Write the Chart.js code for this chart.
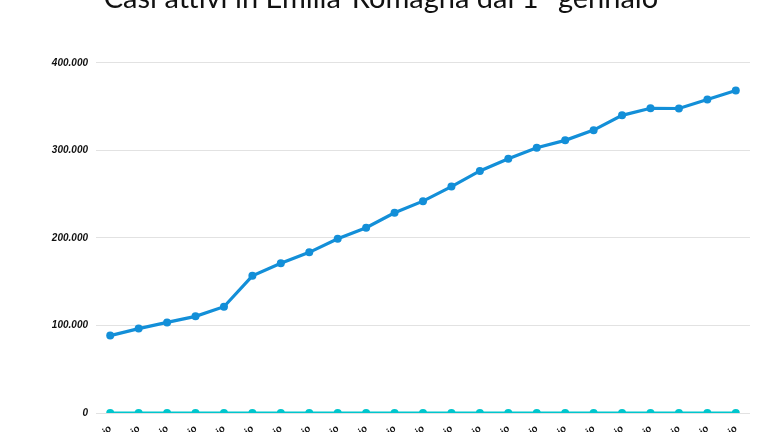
<!DOCTYPE html>
<html>
<head>
<meta charset="utf-8">
<script src="https://cdn.jsdelivr.net/npm/chart.js@4"></script>
<style>
  html, body { margin: 0; padding: 0; background: #fff; overflow: hidden; width: 768px; height: 432px; }
  #wrap { position: absolute; left: 0; top: -30px; width: 768px; height: 503px; }
</style>
</head>
<body>
<div id="wrap"><canvas id="myChart"></canvas></div>
<script>
// dati: casi attivi in Emilia-Romagna, gennaio
const giorni = ['1 gennaio', '2 gennaio', '3 gennaio', '4 gennaio', '5 gennaio', '6 gennaio',
  '7 gennaio', '8 gennaio', '9 gennaio', '10 gennaio', '11 gennaio', '12 gennaio',
  '13 gennaio', '14 gennaio', '15 gennaio', '16 gennaio', '17 gennaio', '18 gennaio',
  '19 gennaio', '20 gennaio', '21 gennaio', '22 gennaio', '23 gennaio'];
const casiAttivi = [88400, 96400, 103500, 110400, 121400, 156700, 171000, 183500, 199100,
  211600, 228700, 242000, 258600, 276500, 290400, 303000, 311400, 323100, 340000,
  348100, 347800, 358000, 368300];
const altraSerie = [0, 0, 0, 0, 0, 0, 0, 0, 0, 0, 0, 0, 0, 0, 0, 0, 0, 0, 0, 0, 0, 0, 0];
const yTicks = [0, 100000, 200000, 300000, 400000];

const tickFont = { family: '"Liberation Sans", Arial, sans-serif', size: 10, weight: 'bold', style: 'italic' };

const ctx = document.getElementById('myChart');

new Chart(ctx, {
  type: 'line',
  data: {
    labels: giorni,
    datasets: [{
      label: 'Casi attivi',
      data: casiAttivi,
      borderColor: '#138fd8',
      backgroundColor: '#138fd8',
      borderWidth: 3.2,
      pointRadius: 4,
      pointBorderWidth: 0,
      pointHoverRadius: 4,
      tension: 0
    }, {
      label: 'Altro',
      data: altraSerie,
      borderColor: '#00c6cd',
      backgroundColor: '#00c6cd',
      borderWidth: 3.2,
      pointRadius: 4,
      pointBorderWidth: 0,
      pointHoverRadius: 4,
      tension: 0
    }]
  },
  options: {
    responsive: true,
    maintainAspectRatio: false,
    animation: false,
    layout: { padding: { left: 12, right: 18, top: 0, bottom: 0 } },
    plugins: {
      legend: { display: false },
      tooltip: { enabled: false },
      title: {
        display: true,
        text: 'Casi attivi in Emilia-Romagna dal 1° gennaio',
        color: '#111',
        font: { family: 'Lato, "Open Sans", sans-serif', size: 29, weight: 'normal' },
        padding: { top: 11, bottom: 47 }
      }
    },
    scales: {
      x: {
        offset: true,
        grid: { display: false },
        border: { display: false },
        ticks: {
          color: '#111',
          font: tickFont,
          minRotation: 45,
          maxRotation: 45,
          autoSkip: false,
          padding: 2
        },
        afterFit: function (scale) { scale.height = 60; }
      },
      y: {
        min: 0,
        max: 400000,
        afterBuildTicks: function (scale) { scale.ticks = yTicks.map(v => ({ value: v })); },
        grid: { color: '#e2e2e2', lineWidth: 1, drawTicks: false },
        border: { display: false },
        ticks: {
          color: '#111',
          font: tickFont,
          padding: 8,
          callback: function (v) { return v.toLocaleString('it-IT'); }
        },
        afterFit: function (scale) { scale.width = 84; }
      }
    }
  }
});
</script>
</body>
</html>
